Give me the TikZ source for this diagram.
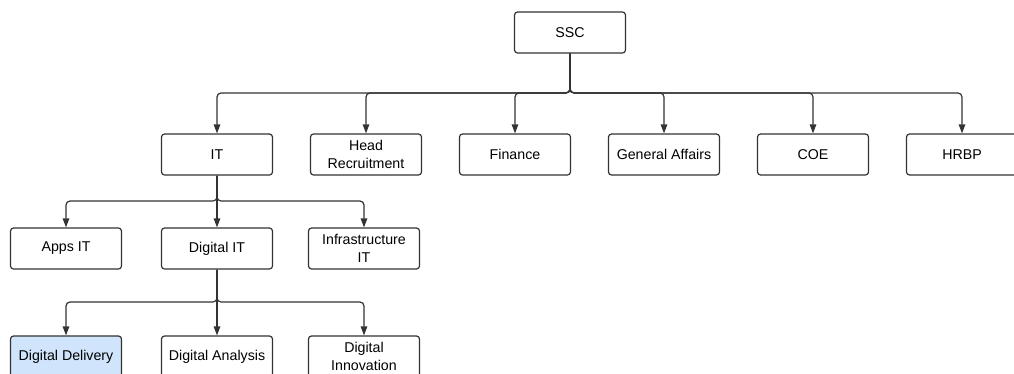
\documentclass[tikz,border=0pt]{standalone}
\usepackage{fontspec}
\setmainfont{Liberation Sans}
\usetikzlibrary{arrows.meta}

\definecolor{boxline}{HTML}{333333}
\definecolor{pickfill}{HTML}{D0E4FB}

\begin{document}
\begin{tikzpicture}[%
    x=1pt, y=-1pt,                        % one unit per pixel, top-down
    >={Triangle[length=9pt,width=6.5pt]}, % narrow filled tips
    font=\fontsize{14.2}{17.5}\selectfont,
    ]
% -------------------------------------------------
% Box and connector styles
\tikzset{
  base/.style={draw=boxline, line width=1.2pt, rounded corners=3pt,
    align=center, minimum width=111pt, minimum height=41pt, inner sep=1pt},
  unit/.style={base, fill=white},
  pick/.style={base, fill=pickfill},
  link/.style={->, draw=boxline, line width=1.2pt, rounded corners=4pt}
}
\useasboundingbox (0,0) rectangle (1014,373);
% -------------------------------------------------
% Top of the tree
\node [unit] (ssc) at (570,32.5) {SSC};

% Second level, spaced by 149 px
\node [unit] (it)   at (217,154.5) {IT};
\node [unit] (head) at (366,154.5) {Head\\Recruitment};
\node [unit] (fin)  at (515,154.5) {Finance};
\node [unit] (ga)   at (664,154.5) {General Affairs};
\node [unit] (coe)  at (813,154.5) {COE};
\node [unit] (hrbp) at (962,154.5) {HRBP};

% Below IT
\node [unit] (apps)  at (66,248.5)  {Apps IT};
\node [unit] (digit) at (217,248.5) {Digital IT};
\node [unit] (infra) at (364,248.5) {Infrastructure\\IT};

% Below Digital IT
\node [pick] (deliv) at (66,356.5)  {Digital Delivery};
\node [unit] (anal)  at (217,356.5) {Digital Analysis};
\node [unit] (innov) at (364,356.5) {Digital\\Innovation};

% -------------------------------------------------
% Bus lines and connectors
\coordinate (bus1) at (570,93);
\coordinate (bus2) at (217,201);
\coordinate (bus3) at (217,302);

\foreach \c in {it,head,fin,ga,coe,hrbp}
  \draw [link] (ssc.south) -- (bus1) -| (\c.north);
\foreach \c in {apps,digit,infra}
  \draw [link] (it.south) -- (bus2) -| (\c.north);
\foreach \c in {deliv,anal,innov}
  \draw [link] (digit.south) -- (bus3) -| (\c.north);
% -------------------------------------------------
\end{tikzpicture}
\end{document}
